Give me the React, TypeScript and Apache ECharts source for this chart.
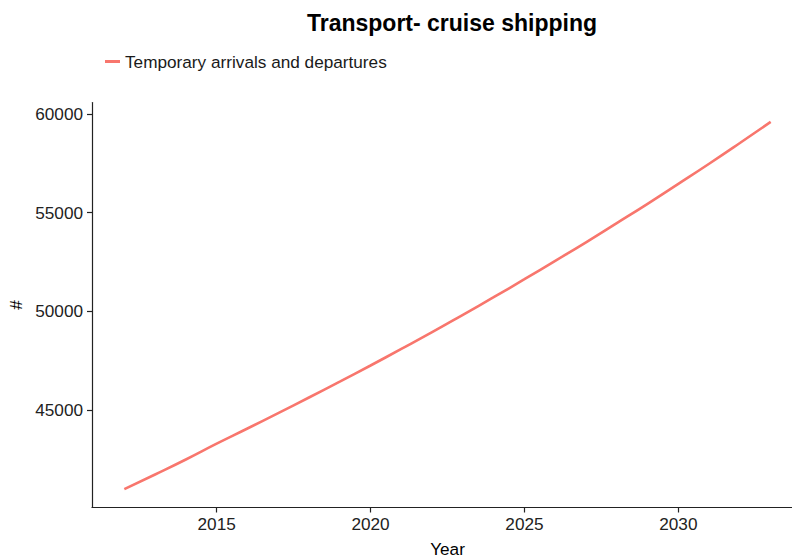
import React, { useEffect, useRef } from "react";
import * as echarts from "echarts";

const years = [2012, 2013, 2014, 2015, 2016, 2017, 2018, 2019, 2020, 2021, 2022, 2023, 2024, 2025, 2026, 2027, 2028, 2029, 2030, 2031, 2032, 2033];
const arrivals = [41000, 41740, 42500, 43300, 44070, 44850, 45640, 46440, 47260, 48100, 48950, 49830, 50720, 51630, 52560, 53500, 54470, 55450, 56460, 57480, 58530, 59600];
const xTicks = [2015, 2020, 2025, 2030];
const yTicks = [45000, 50000, 55000, 60000];
const seriesName = "Temporary arrivals and departures";
const titleText = "Transport- cruise shipping";

const FONT = "'Liberation Sans', Arial, Helvetica, sans-serif";

export default function App() {
  const ref = useRef<HTMLDivElement>(null);
  useEffect(() => {
    if (!ref.current) return;
    const chart = echarts.init(ref.current, undefined, { renderer: "svg" });
    chart.setOption({
      animation: false,
      backgroundColor: "#ffffff",
      textStyle: { fontFamily: FONT },
      title: {
        text: titleText,
        left: 447,
        top: 6,
        textAlign: "center",
        textStyle: { fontFamily: FONT, fontSize: 23, fontWeight: "bold", color: "#000" },
      },
      legend: {
        data: [seriesName],
        left: 105,
        top: 53,
        padding: 0,
        icon: "rect",
        itemWidth: 15,
        itemHeight: 3,
        textStyle: { fontFamily: FONT, fontSize: 17.2, color: "#1a1a1a" },
      },
      grid: { left: 92, top: 102.5, width: 711, height: 405, containLabel: false, outerBoundsMode: "none" },
      xAxis: {
        type: "value",
        min: 2010.95,
        max: 2034.05,
        name: "Year",
        nameLocation: "middle",
        nameGap: 33,
        nameTextStyle: { fontFamily: FONT, fontSize: 17.2, color: "#000" },
        splitLine: { show: false },
        axisLine: { show: true, lineStyle: { color: "#222", width: 1.2 } },
        axisTick: { show: true, length: 5, customValues: xTicks, lineStyle: { color: "#222", width: 1.2 } },
        axisLabel: {
          customValues: xTicks,
          formatter: (v: number) => String(v),
          fontFamily: FONT,
          fontSize: 17.2,
          color: "#222",
          margin: 8,
        },
      },
      yAxis: {
        type: "value",
        min: 40068,
        max: 60582,
        name: "#",
        nameLocation: "middle",
        nameGap: 62,
        nameRotate: 90,
        nameTextStyle: { fontFamily: FONT, fontSize: 17.2, color: "#000" },
        splitLine: { show: false },
        axisLine: { show: true, lineStyle: { color: "#222", width: 1.2 } },
        axisTick: { show: true, length: 5, customValues: yTicks, lineStyle: { color: "#222", width: 1.2 } },
        axisLabel: {
          customValues: yTicks,
          formatter: (v: number) => String(v),
          fontFamily: FONT,
          fontSize: 17.2,
          color: "#222",
          margin: 9,
        },
      },
      series: [
        {
          name: seriesName,
          type: "line",
          data: years.map((y, i) => [y, arrivals[i]]),
          smooth: true,
          showSymbol: false,
          symbol: "none",
          lineStyle: { color: "#F8766D", width: 2.6 },
          itemStyle: { color: "#F8766D" },
        },
      ],
    });
    return () => chart.dispose();
  }, []);
  return (
    <div style={{ width: 792, height: 558, position: "absolute", left: 0, top: 0, overflow: "hidden" }}>
      <div ref={ref} style={{ width: 792, height: 558, overflow: "hidden" }} />
    </div>
  );
}
